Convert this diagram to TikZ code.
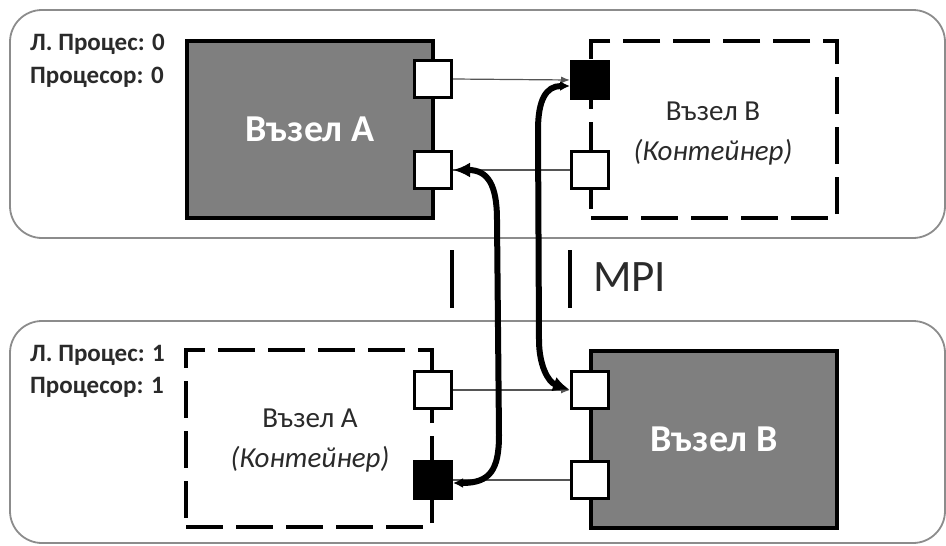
\documentclass[tikz,border=0pt]{standalone}
\usepackage{fontspec}
\setmainfont{Carlito}
\usetikzlibrary{arrows.meta}
\definecolor{nodegray}{HTML}{7F7F7F}
\definecolor{txtgray}{HTML}{2A2A2A}
\definecolor{lanegray}{HTML}{8C8C8C}
\definecolor{wiregray}{HTML}{555555}
\begin{document}
\begin{tikzpicture}[x=1pt,y=-1pt,
  lane/.style={draw=lanegray, line width=1.8pt, rounded corners=32pt},
  realnode/.style={draw=black, fill=nodegray, line width=4pt, minimum width=246pt, minimum height=177pt, inner sep=0pt, font=\fontsize{38}{44}\selectfont\bfseries, text=white},
  ghost/.style={draw=black, line width=4pt, dash pattern=on 37pt off 13pt, minimum width=246pt, minimum height=177pt, inner sep=0pt, align=center, font=\fontsize{29}{40}\selectfont, text=txtgray},
  port/.style={draw=black, fill=white, line width=3pt, minimum size=37pt, inner sep=0pt},
  bport/.style={port, fill=black},
  lbl/.style={anchor=west, inner sep=0pt, font=\fontsize{25}{30}\selectfont\bfseries, text=txtgray},
  wire/.style={draw=wiregray, line width=1.2pt},
  wirearrow/.style={wire, -{Latex[length=9pt,width=7pt]}},
  mpi/.style={line width=6pt, {Latex[length=10pt,width=10pt]}-{Latex[length=17pt,width=15pt]}},
  sep/.style={line width=3.5pt}
]
\useasboundingbox (0,0) rectangle (946,546);
% process lanes
\draw[lane] (10,10) rectangle (945,238);
\draw[lane] (10,321) rectangle (945,543);
% labels
\node[lbl] (l0a) at (30,44) {Л. Процес: 0};
\node[lbl] (l0b) at (30,77) {Процесор: 0};
\node[lbl] (l1a) at (30,355) {Л. Процес: 1};
\node[lbl] (l1b) at (30,387) {Процесор: 1};
% nodes
\node[realnode] (A0) at (310,129.5) {Възел A};
\node[ghost] (B0) at (714,129.5) {};
\node[ghost] (A1) at (309,438.5) {};
\node[realnode] (B1) at (714,439) {Възел B};
\node[text=txtgray, align=center, font=\fontsize{29}{40}\selectfont] (B0t) at (713,134) {Възел B\\\textit{(Контейнер)}};
\node[text=txtgray, align=center, font=\fontsize{29}{40}\selectfont] (A1t) at (310,441) {Възел A\\\textit{(Контейнер)}};
% ports
\node[port] (pA0a) at (433,79) {};
\node[port] (pA0b) at (433,170) {};
\node[bport] (pB0a) at (590,80) {};
\node[port] (pB0b) at (590,170) {};
\node[port] (pA1a) at (433,390) {};
\node[bport] (pA1b) at (433,480) {};
\node[port] (pB1a) at (590,390) {};
\node[port] (pB1b) at (590,480) {};
% thin wires
\draw[wirearrow] (pA0a.east) -- (pB0a.west);
\draw[wire] (pB0b.west) -- (pA0b.east);
\draw[wirearrow] (pA1a.east) -- (pB1a.west);
\draw[wire] (pB1b.west) -- (pA1b.east);
% MPI separators
\coordinate (s1t) at (452,250); \coordinate (s1b) at (452,308);
\coordinate (s2t) at (570,250); \coordinate (s2b) at (570,308);
\draw[sep] (s1t) -- (s1b);
\draw[sep] (s2t) -- (s2b);
\node[font=\fontsize{45}{50}\selectfont, text=txtgray, anchor=west, inner sep=0pt] (mpi) at (593,277) {MPI};
% MPI links
\draw[mpi] ([yshift=-3pt]pA1b.east) .. controls (490,483) and (499,470) .. (499,435)
   -- (497,220) .. controls (497,185) and (488,170) .. (pA0b.east);
\draw[mpi] ([yshift=-6pt]pB0a.west) .. controls (546,86) and (538,100) .. (538,130)
   -- (539,340) .. controls (539,365) and (548,382) .. (pB1a.west);
\end{tikzpicture}
\end{document}
